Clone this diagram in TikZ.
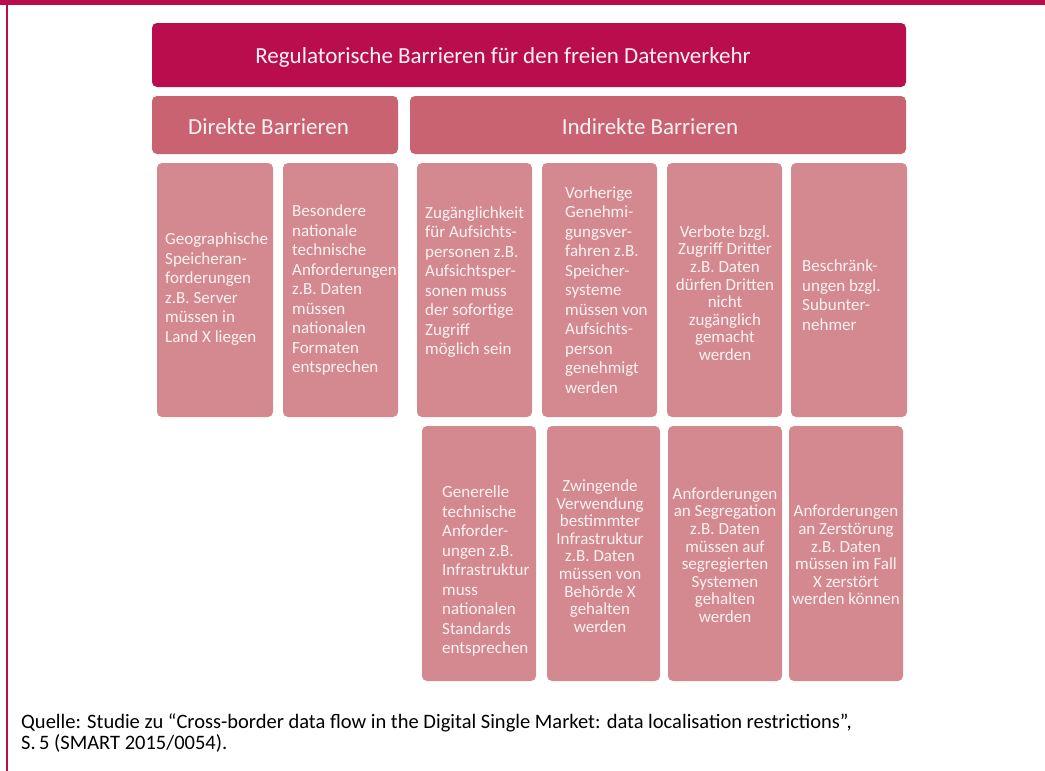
\documentclass[tikz,border=0pt]{standalone}
\usepackage{fontspec}
\setmainfont{Carlito}
\definecolor{berry}{RGB}{185,13,77}
\definecolor{rosemid}{RGB}{201,99,114}
\definecolor{roselight}{RGB}{212,136,143}
\definecolor{paletext}{RGB}{253,242,244}
\begin{document}
\begin{tikzpicture}[x=1pt,y=-1pt,
  box/.style={draw=none,rounded corners=5pt,inner sep=0pt},
  topbox/.style={box,fill=berry},
  midbox/.style={box,fill=rosemid},
  leafbox/.style={box,fill=roselight},
  leaftext/.style={text=paletext,inner sep=0pt,align=left,font=\fontsize{17}{19.5}\selectfont},
  tighttext/.style={text=paletext,inner sep=0pt,align=center,font=\fontsize{17}{17.6}\selectfont},
  headtext/.style={text=paletext,inner sep=0pt,font=\fontsize{23}{26}\selectfont}]
\useasboundingbox (0,0) rectangle (1045,771);
% page frame
\fill[berry] (0,0) rectangle (1045,5);
\fill[berry] (6,0) rectangle (8,771);

% headline boxes
\node[topbox,minimum width=754,minimum height=64] (top) at (529,55) {};
\node[headtext] (toplabel) at (503,57) {Regulatorische Barrieren für den freien Datenverkehr};
\node[midbox,minimum width=246,minimum height=58] (direct) at (275,125) {};
\node[headtext,anchor=west] (directlabel) at (188,127) {Direkte Barrieren};
\node[midbox,minimum width=496,minimum height=58] (indirect) at (658,125) {};
\node[headtext] (indirectlabel) at (650,127) {Indirekte Barrieren};

% first row
\node[leafbox,minimum width=116,minimum height=254] (b1) at (215,290) {};
\node[leafbox,minimum width=115,minimum height=254] (b2) at (340.5,290) {};
\node[leafbox,minimum width=115,minimum height=254] (b3) at (474.5,290) {};
\node[leafbox,minimum width=115,minimum height=254] (b4) at (599.5,290) {};
\node[leafbox,minimum width=115,minimum height=254] (b5) at (724.5,290) {};
\node[leafbox,minimum width=116,minimum height=254] (b6) at (849,290) {};
% second row
\node[leafbox,minimum width=114,minimum height=255] (c1) at (479,553.5) {};
\node[leafbox,minimum width=113,minimum height=255] (c2) at (603.5,553.5) {};
\node[leafbox,minimum width=114,minimum height=255] (c3) at (725,553.5) {};
\node[leafbox,minimum width=114,minimum height=255] (c4) at (846,553.5) {};

% texts of the first row
\node[leaftext,anchor=west] (t1) at (165,289) {Geographische\\Speicheran-\\forderungen\\z.B. Server\\müssen in\\Land X liegen};
\node[leaftext,anchor=west] (t2) at (292,290) {Besondere\\nationale\\technische\\Anforderungen\\z.B. Daten\\müssen\\nationalen\\Formaten\\entsprechen};
\node[leaftext,anchor=west] (t3) at (425,282) {Zugänglichkeit\\für Aufsichts-\\personen z.B.\\Aufsichtsper-\\sonen muss\\der sofortige\\Zugriff\\möglich sein};
\node[leaftext,anchor=west] (t4) at (565,290) {Vorherige\\Genehmi-\\gungsver-\\fahren z.B.\\Speicher-\\systeme\\müssen von\\Aufsichts-\\person\\genehmigt\\werden};
\node[tighttext] (t5) at (725,293) {Verbote bzgl.\\Zugriff Dritter\\z.B. Daten\\dürfen Dritten\\nicht\\zugänglich\\gemacht\\werden};
\node[leaftext,anchor=west] (t6) at (802,295) {Beschränk-\\ungen bzgl.\\Subunter-\\nehmer};

% texts of the second row
\node[leaftext,anchor=west] (u1) at (442,571) {Generelle\\technische\\Anforder-\\ungen z.B.\\Infrastruktur\\muss\\nationalen\\Standards\\entsprechen};
\node[tighttext] (u2) at (600,556) {Zwingende\\Verwendung\\bestimmter\\Infrastruktur\\z.B. Daten\\müssen von\\Behörde X\\gehalten\\werden};
\node[tighttext] (u3) at (725,555) {Anforderungen\\an Segregation\\z.B. Daten\\müssen auf\\segregierten\\Systemen\\gehalten\\werden};
\node[tighttext] (u4) at (846,555) {Anforderungen\\an Zerstörung\\z.B. Daten\\müssen im Fall\\X zerstört\\werden können};

% source line
\node[anchor=west,inner sep=0pt,align=left,font=\fontsize{20.5}{21}\selectfont] (source) at (21,733)
  {Quelle: Studie zu “Cross-border data flow in the Digital Single Market: data localisation restrictions”,\\S.\,5 (SMART 2015/0054).};
\end{tikzpicture}
\end{document}
